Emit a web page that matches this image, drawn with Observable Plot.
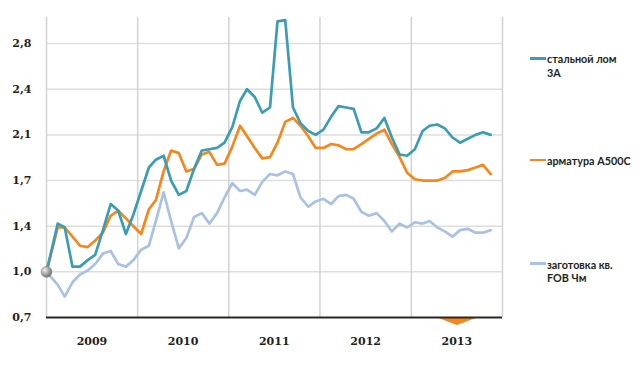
<!DOCTYPE html>
<html><head><meta charset="utf-8">
<script src="https://cdn.jsdelivr.net/npm/d3@7"></script>
<script src="https://cdn.jsdelivr.net/npm/@observablehq/plot@0.6"></script>
<style>
body{margin:0;background:#fff;}
#wrap{position:relative;width:640px;height:365px;overflow:hidden;}
.sw{position:absolute;left:530px;width:16px;height:2.5px;}
.lt{position:absolute;left:547px;font:bold 10.8px Lato, sans-serif;color:#231f20;line-height:13.5px;white-space:nowrap;}
</style></head><body><div id="wrap"></div>
<script>
// ---- data ----
const seriesNames = ["стальной лом 3А", "арматура А500С", "заготовка кв. FOB Чм"];
const seriesColors = ["#3b9db4", "#f7861b", "#a9c1e3"];
const baseDate = "2009-01-01";
const baseValue = 1.05;
const firstMonth = "2009-02-01";
const lastMonthExclusive = "2013-12-01";
const scrap = [1.42,1.39,1.09,1.09,1.14,1.18,1.37,1.57,1.52,1.34,
  1.49,1.67,1.85,1.91,1.94,1.75,1.64,1.67,1.84,1.98,
  1.99,2.00,2.04,2.16,2.36,2.45,2.39,2.27,2.31,2.97,
  2.98,2.31,2.19,2.13,2.10,2.14,2.24,2.32,2.31,2.30,
  2.12,2.12,2.15,2.23,2.08,1.95,1.94,1.99,2.13,2.17,
  2.18,2.15,2.08,2.04,2.07,2.10,2.12,2.10];
const rebar = [1.39,1.39,1.32,1.25,1.24,1.29,1.35,1.48,1.52,1.46,
  1.40,1.34,1.53,1.60,1.82,1.98,1.96,1.82,1.84,1.95,
  1.97,1.87,1.88,2.01,2.17,2.09,2.00,1.92,1.93,2.04,
  2.20,2.23,2.17,2.09,2.00,2.00,2.03,2.02,1.99,1.99,
  2.03,2.07,2.11,2.14,2.03,1.93,1.81,1.76,1.75,1.75,
  1.75,1.77,1.82,1.82,1.83,1.85,1.87,1.80];
const billet = [0.95,0.86,0.97,1.03,1.06,1.11,1.19,1.21,1.11,1.09,
  1.14,1.22,1.25,1.44,1.66,1.44,1.23,1.31,1.47,1.50,
  1.42,1.50,1.62,1.73,1.67,1.68,1.64,1.74,1.80,1.79,
  1.82,1.80,1.62,1.55,1.59,1.61,1.57,1.63,1.64,1.61,
  1.51,1.48,1.50,1.44,1.36,1.42,1.39,1.43,1.42,1.44,
  1.39,1.36,1.32,1.37,1.38,1.35,1.35,1.37];
const yTicks = [0.7, 1.05, 1.4, 1.75, 2.1, 2.45, 2.8];
const yTickLabels = ["0,7","1,0","1,4","1,7","2,1","2,4","2,8"];
const yearLabels = ["2009","2010","2011","2012","2013"];
const yearBounds = ["2009-01-01","2010-01-01","2011-01-01","2012-01-01","2013-01-01","2014-01-01"];
const markerDates = ["2013-04-12","2013-07-04","2013-09-28"];
const markerTop = [0.7, 0.7, 0.7];
const markerBottom = [0.7, 0.638, 0.7];

// ---- build ----
const P = s => d3.utcParse("%Y-%m-%d")(s);
const months = d3.utcMonth.range(P(firstMonth), P(lastMonthExclusive)).map(d => d3.utcDay.offset(d, 14));
function series(vals, name){
  return [{date: P(baseDate), v: baseValue, s: name}].concat(vals.map((v,i)=>({date: months[i], v, s: name})));
}
const data = [series(billet, seriesNames[2]), series(rebar, seriesNames[1]), series(scrap, seriesNames[0])];
const yLabelMap = new Map(yTicks.map((t,i)=>[t, yTickLabels[i]]));
const yearMid = yearLabels.map(y => P(y + "-07-02"));
const yearMap = new Map(yearMid.map((d,i)=>[+d, yearLabels[i]]));
const marker = markerDates.map((d,i)=>({date: P(d), top: markerTop[i], bottom: markerBottom[i]}));

const plot = Plot.plot({
  width: 640, height: 365,
  marginTop: 17, marginBottom: 48, marginLeft: 46, marginRight: 138,
  style: {background: "transparent", overflow: "visible"},
  x: {type: "utc", domain: [P(yearBounds[0]), P(yearBounds[yearBounds.length-1])]},
  y: {domain: [0.7, 3.0]},
  marks: [
    Plot.ruleY(yTicks.slice(1), {stroke: "#dedede", strokeWidth: 1.5}),
    Plot.ruleX(yearBounds.map(P), {stroke: "#d2d2d2", strokeWidth: 1.5}),
    Plot.axisY({ticks: yTicks, tickFormat: d => yLabelMap.get(d), tickSize: 0, tickPadding: 15,
      fontSize: 11, fontWeight: "bold", fontFamily: "DejaVu Serif", fill: "#231f20"}),
    Plot.axisX({ticks: yearMid, tickFormat: d => yearMap.get(+d), tickSize: 0, tickPadding: 20,
      fontSize: 11, fontWeight: "bold", fontFamily: "DejaVu Serif", fill: "#231f20"}),
    Plot.line(data[0], {x: "date", y: "v", stroke: seriesColors[2], strokeWidth: 2.7}),
    Plot.line(data[1], {x: "date", y: "v", stroke: seriesColors[1], strokeWidth: 2.7}),
    Plot.line(data[2], {x: "date", y: "v", stroke: seriesColors[0], strokeWidth: 2.7}),
    Plot.areaY(marker, {x: "date", y1: "top", y2: "bottom", fill: "#f7861b"}),
    Plot.ruleY([0.7], {stroke: "#2b2620", strokeWidth: 2}),
    Plot.dot([{date: P(baseDate), v: baseValue}], {x: "date", y: "v", r: 5.5, fill: "#9a9a9a", stroke: "#888", strokeWidth: 0.5})
  ]
});
// gradient for the starting ball
const svg = d3.select(plot);
const defs = svg.insert("defs", ":first-child");
const g = defs.append("radialGradient").attr("id","ball").attr("cx","35%").attr("cy","35%").attr("r","70%");
g.append("stop").attr("offset","0%").attr("stop-color","#f0f0f0");
g.append("stop").attr("offset","60%").attr("stop-color","#9c9c9c");
g.append("stop").attr("offset","100%").attr("stop-color","#6e6e6e");
svg.selectAll("circle").attr("fill","url(#ball)");

const wrap = document.getElementById("wrap");
wrap.appendChild(plot);

// legend
const legend = [
  {color: seriesColors[0], y: 58.3, lines: ["стальной лом", "3А"]},
  {color: seriesColors[1], y: 160, lines: ["арматура А500С"]},
  {color: seriesColors[2], y: 263.5, lines: ["заготовка кв.", "FOB Чм"]}
];
legend.forEach(item => {
  const sw = document.createElement("div");
  sw.className = "sw"; sw.style.top = (item.y - 1.25) + "px"; sw.style.background = item.color;
  wrap.appendChild(sw);
  const t = document.createElement("div");
  t.className = "lt"; t.style.top = (item.y + 5 - 11) + "px";
  t.innerHTML = item.lines.join("<br>");
  wrap.appendChild(t);
});
</script></body></html>
